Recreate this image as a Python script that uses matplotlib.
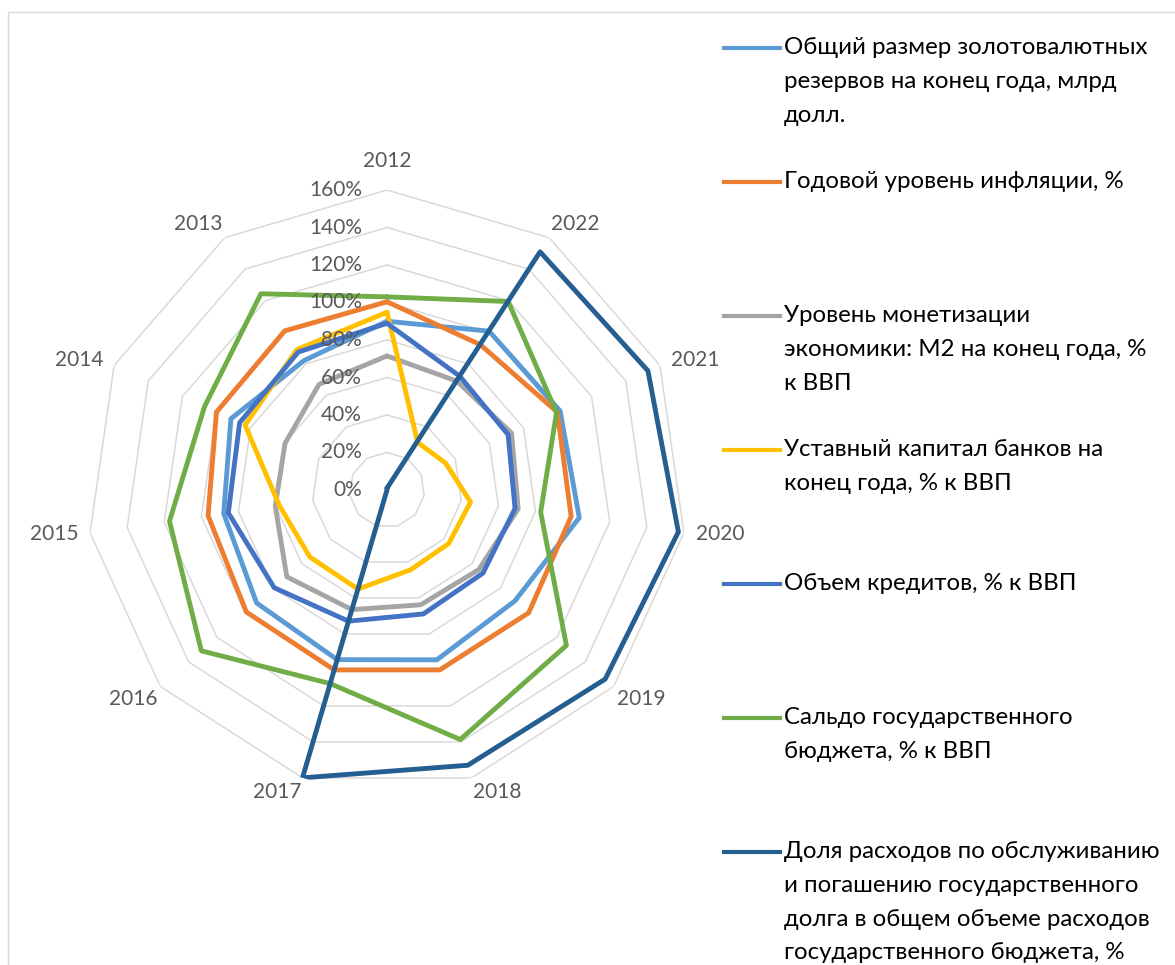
import numpy as np
import matplotlib
matplotlib.use('Agg')
import matplotlib.pyplot as plt
from matplotlib.lines import Line2D
from matplotlib.patches import Rectangle

plt.rcParams['font.family'] = ['Lato', 'Open Sans', 'DejaVu Sans']

# ---------------- data (percent, chronological order) ----------------
years = ['2012', '2013', '2014', '2015', '2016', '2017', '2018', '2019', '2020', '2021', '2022']

reserves  = [90.0, 82.0, 91.5, 88.0, 92.0, 94.3, 94.4, 90.3, 103.6, 101.5, 100.7]
inflation = [100.4, 100.9, 100.0, 96.4, 99.3, 100.0, 100.0, 100.0, 99.2, 99.9, 92.1]
monetiz   = [71.5, 67.0, 59.8, 60.2, 70.7, 66.5, 63.8, 64.8, 70.7, 73.0, 69.0]
capital   = [94.8, 89.0, 83.2, 58.0, 54.5, 55.1, 44.4, 43.6, 45.0, 34.4, 30.2]
credits   = [88.9, 87.5, 86.4, 85.5, 79.6, 72.9, 68.9, 67.7, 69.0, 71.0, 72.0]
budget    = [103.0, 124.4, 107.0, 117.2, 131.0, 107.6, 138.7, 126.6, 82.8, 99.4, 119.5]
debt      = [1.0, 0.0, 0.0, 0.0, 0.0, 160.0, 153.0, 154.0, 157.0, 153.0, 151.0]

series_labels = [
    ['Общий размер золотовалютных', 'резервов на конец года, млрд', 'долл.'],
    ['Годовой уровень инфляции, %'],
    ['Уровень монетизации', 'экономики: М2 на конец года, %', 'к ВВП'],
    ['Уставный капитал банков на', 'конец года, % к ВВП'],
    ['Объем кредитов, % к ВВП'],
    ['Сальдо государственного', 'бюджета, % к ВВП'],
    ['Доля расходов по обслуживанию', 'и погашению государственного',
     'долга в общем объеме расходов', 'государственного бюджета, %'],
]

ring_values = [0.2, 0.4, 0.6, 0.8, 1.0, 1.2, 1.4, 1.6]
ring_labels = ['0%', '20%', '40%', '60%', '80%', '100%', '120%', '140%', '160%']
ring_label_values = [0.0] + ring_values

# ---------------- styles ----------------
series = [reserves, inflation, monetiz, capital, credits, budget, debt]
colors = ['#5B9BD5', '#ED7D31', '#A5A5A5', '#FFC000', '#4472C4', '#70AD47', '#255E91']
label_color = '#595959'

W, H = 1175, 965
fig = plt.figure(figsize=(W / 100, H / 100), dpi=100)
cx, cy, R = 387, 490, 300
ax = fig.add_axes([(cx - R) / W, (H - cy - R) / H, 2 * R / W, 2 * R / H], projection='polar')
ax.set_theta_offset(np.pi / 2)
ax.set_theta_direction(1)
ax.set_ylim(0, 1.6)
ax.grid(False)
ax.set_xticks([])
ax.set_yticks([])
ax.spines['polar'].set_visible(False)
ax.patch.set_visible(False)

n = len(years)
theta = np.arange(n) * 2 * np.pi / n
closed = np.append(theta, theta[0])

for rv in ring_values:
    ax.plot(closed, [rv] * (n + 1), color='#D9D9D9', lw=1.1, zorder=1)

for vals, col in zip(series, colors):
    v = np.array(vals) / 100.0
    ax.plot(closed, np.append(v, v[0]), color=col, lw=3.5,
            solid_joinstyle='round', solid_capstyle='round', zorder=3)

# radial labels
for rv, lbl in zip(ring_label_values, ring_labels):
    ax.annotate(lbl, xy=(0, rv), xytext=(-18, 0), textcoords='offset points',
                ha='right', va='center', fontsize=15, color=label_color, zorder=5)

# category labels: anchored on the axis line, aligned by side
for i, yr in enumerate(years):
    phi = theta[i]
    sx = -np.sin(phi)   # screen x direction
    cy_ = np.cos(phi)   # screen up direction
    ha = 'center' if abs(sx) < 0.1 else ('left' if sx > 0 else 'right')
    if cy_ > 0.5:
        va = 'bottom'
    elif cy_ < -0.5:
        va = 'top'
    else:
        va = 'center'
    if ha == 'center':
        d = 319
    elif va == 'center':
        d = 312
    else:
        d = 304
    ax.text(phi, d / R * 1.6, yr, ha=ha, va=va, fontsize=15, color=label_color)

# outer frame
fig.add_artist(Rectangle((8 / W, -0.05), 1.2, (H - 12) / H + 0.05,
                         transform=fig.transFigure, fill=False,
                         ec='#D9D9D9', lw=1))

# legend
for k, (lines, col) in enumerate(zip(series_labels, colors)):
    y0 = 48 + k * 134
    fig.add_artist(Line2D([724 / W, 780 / W], [1 - y0 / H] * 2,
                          transform=fig.transFigure, color=col, lw=3))
    for j, line in enumerate(lines):
        fig.text(784 / W, 1 - (y0 + j * 33.5) / H, line, ha='left', va='center',
                 fontsize=17.3, color='black')

fig.savefig('out.png', dpi=100)
